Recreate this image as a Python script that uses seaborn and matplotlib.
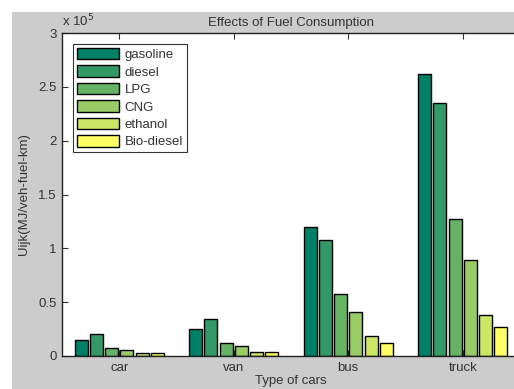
import matplotlib
matplotlib.use("Agg")
import matplotlib.pyplot as plt
import seaborn as sns
import pandas as pd
from matplotlib.patches import Rectangle

vehicles = ["car", "van", "bus", "truck"]
fuels = ["gasoline", "diesel", "LPG", "CNG", "ethanol", "Bio-diesel"]
# values in units of 1e5 MJ/veh-fuel-km
gasoline = [0.15, 0.25, 1.20, 2.62]
diesel = [0.20, 0.34, 1.08, 2.35]
lpg = [0.077, 0.124, 0.58, 1.27]
cng = [0.053, 0.09, 0.41, 0.89]
ethanol = [0.028, 0.04, 0.183, 0.383]
biodiesel = [0.028, 0.04, 0.12, 0.266]
yticks = [0, 0.5, 1, 1.5, 2, 2.5, 3]
ytick_labels = ["0", "0.5", "1", "1.5", "2", "2.5", "3"]

series = [gasoline, diesel, lpg, cng, ethanol, biodiesel]
rows = []
for f, vals in zip(fuels, series):
    for v, val in zip(vehicles, vals):
        rows.append({"vehicle": v, "fuel": f, "value": val})
df = pd.DataFrame(rows)

colors = [(0.0, 0.5, 0.4), (0.2, 0.6, 0.4), (0.4, 0.7, 0.4),
          (0.6, 0.8, 0.4), (0.8, 0.9, 0.4), (1.0, 1.0, 0.4)]

sns.set_style("white")
plt.rcParams["font.family"] = ["Liberation Sans", "DejaVu Sans"]

W, H = 514, 389
fig = plt.figure(figsize=(W / 100, H / 100), dpi=100)
fig.patch.set_facecolor("white")
bg = Rectangle((12 / W, 0), 1, (H - 12) / H, transform=fig.transFigure,
               facecolor="#cccccc", edgecolor="none", zorder=-10)
fig.add_artist(bg)

left, right, top, bottom = 62, 520, 33, 356
ax = fig.add_axes([left / W, (H - bottom) / H, (right - left) / W, (bottom - top) / H])
ax.set_zorder(1)
ax.set_facecolor("white")

sns.barplot(data=df, x="vehicle", y="value", hue="fuel", order=vehicles,
            hue_order=fuels, palette=colors, saturation=1, width=0.8, gap=0.15,
            edgecolor="black", linewidth=1.0, ax=ax, legend=True)

ax.set_xlim(-0.5, 3.5)
ax.set_ylim(0, 3)
ax.set_yticks(yticks)
ax.set_yticklabels(ytick_labels)
for s in ax.spines.values():
    s.set_color("#222222")
    s.set_linewidth(1.0)
ax.tick_params(axis="both", direction="in", length=4, width=0.8, labelsize=9.5,
               colors="#333333", top=True, right=True, left=True, bottom=True)
ax.tick_params(axis="x", pad=4)
ax.tick_params(axis="y", pad=4)

ax.set_xlabel("Type of cars", fontsize=9.5, labelpad=1, color="#333333")
ax.set_ylabel("Uijk(MJ/veh-fuel-km)", fontsize=9.5, labelpad=6, color="#333333")
ax.set_title("Effects of Fuel Consumption", fontsize=9.5, pad=5, color="#333333")
ax.text(0.0, 1.01, r"x 10$^5$", transform=ax.transAxes, fontsize=9.5,
        ha="left", va="bottom", color="#333333")

leg = ax.legend(loc="upper left", bbox_to_anchor=(0.024, 0.966), frameon=True,
                fancybox=False, edgecolor="black", fontsize=9.5, handlelength=3.2,
                handleheight=0.95, labelspacing=0.32, borderpad=0.3,
                handletextpad=0.4, borderaxespad=0)
leg.get_frame().set_linewidth(0.8)
for t in leg.get_texts():
    t.set_color("#333333")
leg.set_title(None)

fig.savefig("out.png", dpi=100, facecolor=fig.get_facecolor())
